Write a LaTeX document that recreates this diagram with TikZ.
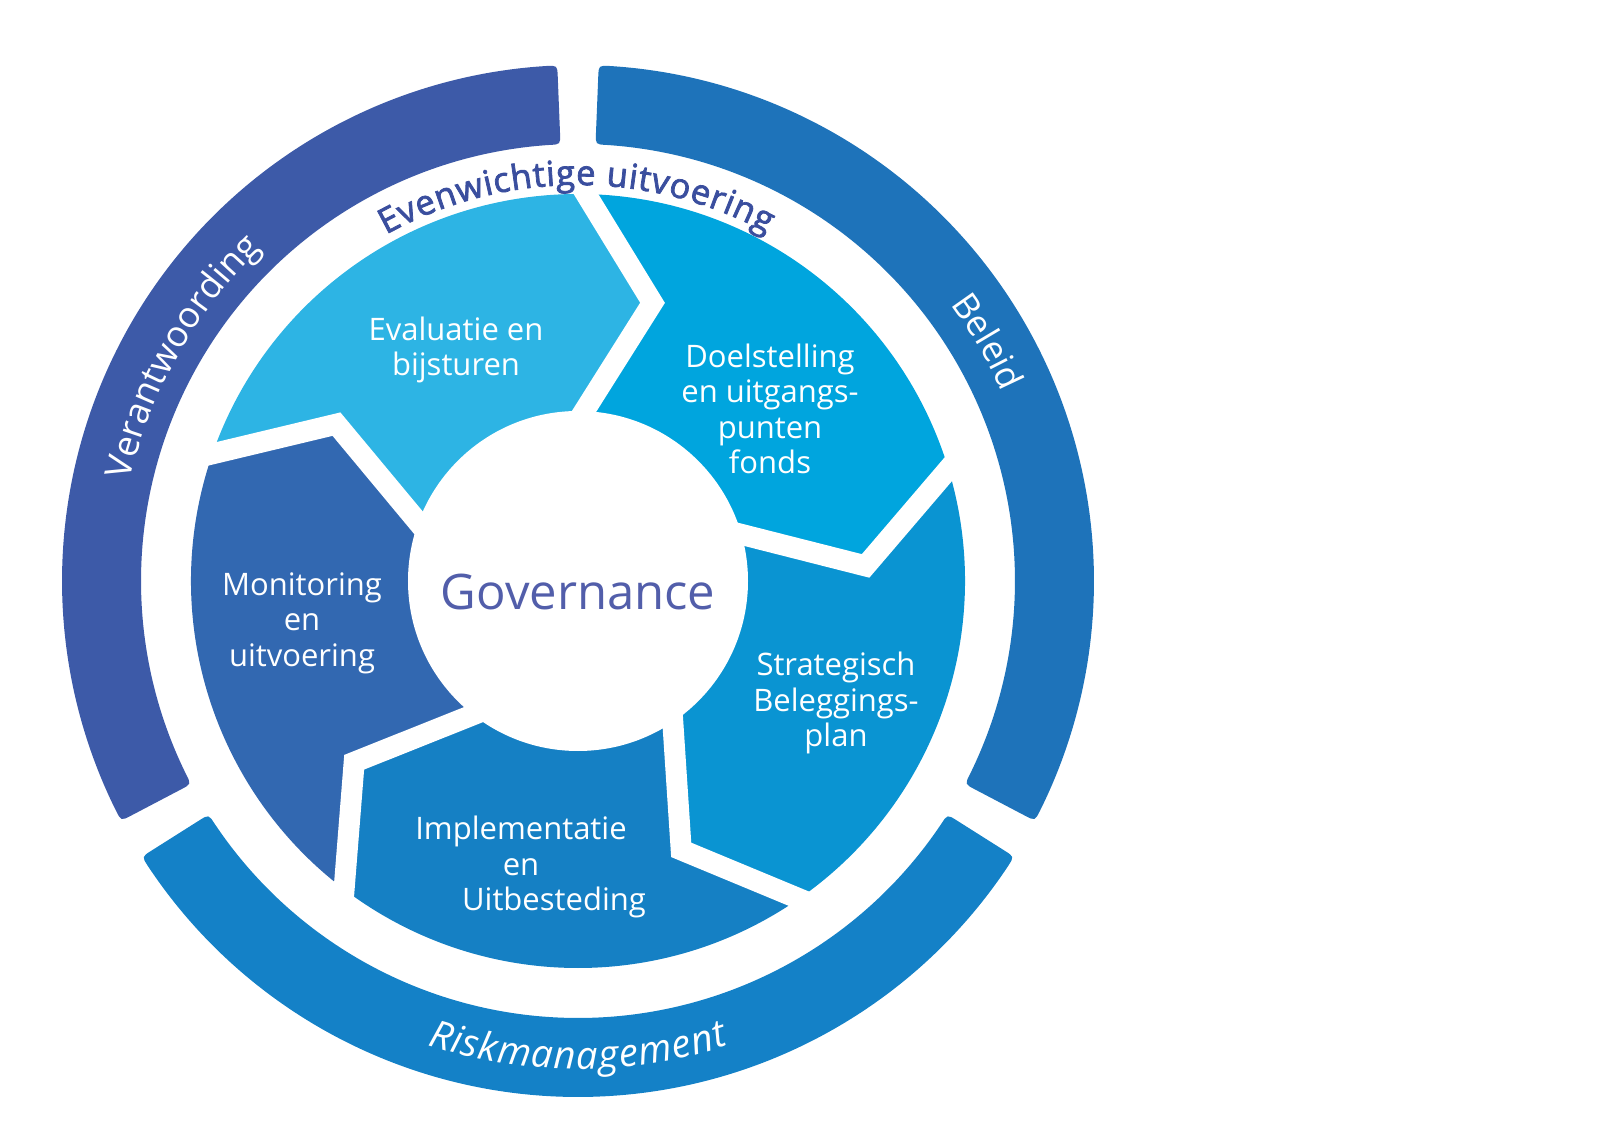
\documentclass[tikz,border=0pt]{standalone}
\usepackage{fontspec}
\setmainfont{Open Sans}
\newfontfamily\EvenFont[FakeBold=2.2]{Open Sans}
\usetikzlibrary{decorations.text}
\definecolor{ringVer}{RGB}{61,90,168}
\definecolor{ringBel}{RGB}{30,115,186}
\definecolor{ringRisk}{RGB}{20,129,199}
\definecolor{segEval}{RGB}{45,180,228}
\definecolor{segDoel}{RGB}{0,165,222}
\definecolor{segStrat}{RGB}{10,148,210}
\definecolor{segImpl}{RGB}{21,128,196}
\definecolor{segMon}{RGB}{50,104,177}
\definecolor{txtDark}{RGB}{58,78,158}
\definecolor{txtGov}{RGB}{82,94,170}
% ring segment with rounded ends: #1 ccw end angle, #2 cw end angle, #3 colour
\newcommand\RingSeg[3]{%
  \fill[#3] (#2+1.22:516pt) arc[start angle=#2+1.22, end angle=#1-1.22, radius=516pt]
    .. controls (#1:516pt) .. (#1:505pt)
    -- (#1:448pt)
    .. controls (#1:437pt) .. (#1-1.44:437pt)
    arc[start angle=#1-1.44, end angle=#2+1.44, radius=437pt]
    .. controls (#2:437pt) .. (#2:448pt)
    -- (#2:505pt)
    .. controls (#2:516pt) .. (#2+1.22:516pt) -- cycle;
}
% chevron segment: #1 ccw boundary angle, #2 colour
\newcommand\PieSeg[2]{%
  \fill[#2] (#1:387pt) arc[start angle=#1, end angle=#1-72, radius=387pt]
    -- (#1-87:288pt) -- (#1-72:170pt) -- (0,0) -- (#1:170pt) -- (#1-15:288pt) -- cycle;
}
\newcommand\GapLine[1]{%
  \draw[white, line width=21pt, line join=miter] (#1:400pt) -- (#1-15:288pt) -- (#1:160pt);
}
\begin{document}
\begin{tikzpicture}[x=1pt,y=1pt,
  lbl/.style={text=white, font=\fontsize{31}{35.5}\selectfont, align=center, inner sep=0pt}]
\useasboundingbox (-578,-540) rectangle (1022,581);
% outer ring
\RingSeg{207.7}{92.3}{ringVer}
\RingSeg{87.7}{-27.7}{ringBel}
\RingSeg{327.7}{212.3}{ringRisk}
% inner chevron ring
\PieSeg{162}{segEval}
\PieSeg{90}{segDoel}
\PieSeg{18}{segStrat}
\PieSeg{-54}{segImpl}
\PieSeg{-126}{segMon}
\GapLine{162}
\GapLine{90}
\GapLine{18}
\GapLine{-54}
\GapLine{-126}
% centre
\node[circle, fill=white, minimum size=340pt, inner sep=0pt] (hub) at (0,0) {};
\node[anchor=base, text=txtGov, font=\fontsize{49}{49}\selectfont, inner sep=0pt] (gov) at (0,-29) {Governance};
% segment labels
\node[lbl] (eval) at (-122,231) {Evaluatie en\\bijsturen};
\node[lbl] (doel) at (192,172) {Doelstelling\\en uitgangs-\\punten\\fonds};
\node[lbl] (strat) at (258,-122) {Strategisch\\Beleggings-\\plan};
\node[lbl] (impl) at (-57,-286) {Implementatie\\en\\\hspace*{66pt}Uitbesteding};
\node[lbl] (mon) at (-276,-42) {Monitoring\\en\\uitvoering};
% curved texts
\path[decorate, decoration={text along path, text align=fit to path,
  text={|\EvenFont\fontsize{34.5}{34.5}\selectfont\color{txtDark}|Evenwichtige uitvoering}}]
  (119:396pt) arc[start angle=119, end angle=61.5, radius=396pt];
\path[decorate, decoration={text along path, text align=center,
  text={|\fontsize{36}{36}\selectfont\color{white}|Verantwoording}}]
  (185.5:459pt) arc[start angle=185.5, end angle=115.5, radius=459pt];
\path[decorate, decoration={text along path, text align=center,
  text={|\fontsize{35.5}{35.5}\selectfont\color{white}|Beleid}}]
  (60.3:464pt) arc[start angle=60.3, end angle=0.3, radius=464pt];
\path[decorate, decoration={text along path, text align=fit to path,
  text={|\fontsize{38.5}{38.5}\selectfont\itshape\color{white}|Riskmanagement}}]
  (252:488pt) arc[start angle=252, end angle=288, radius=488pt];
\end{tikzpicture}
\end{document}
